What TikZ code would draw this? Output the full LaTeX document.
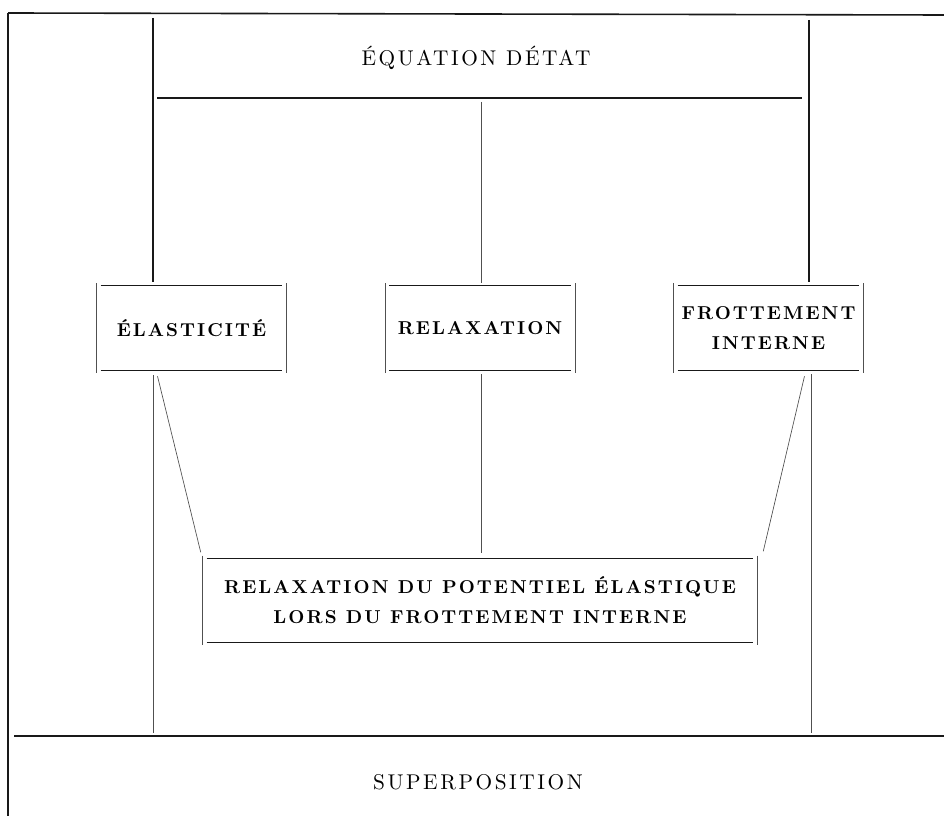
\documentclass[tikz,border=0pt]{standalone}
\usepackage{fontspec}
\setmainfont{lmroman10-regular.otf}[BoldFont=lmroman10-bold.otf]
\usepackage{tikz}
\usetikzlibrary{positioning, calc}
\definecolor{ink}{RGB}{25,25,25}
\definecolor{inkgray}{RGB}{80,80,80}
\tikzset{
  tablet/.style={rectangle, minimum width=142pt, minimum height=63pt,
    inner sep=0pt, align=center,
    font=\fontsize{14}{22.5}\selectfont\bfseries\addfontfeatures{LetterSpace=11}},
  widetablet/.style={tablet, minimum width=415.5pt},
  heading/.style={inner sep=0pt,
    font=\fontsize{16}{18}\selectfont\addfontfeatures{LetterSpace=12}},
  framelines/.style={line width=1.2pt, color=ink},
  titlerule/.style={line width=0.9pt, color=ink},
  link/.style={line width=0.5pt, color=inkgray},
  lid/.style={line width=0.7pt, color=ink},
  sidebar/.style={line width=0.5pt, color=inkgray}
}

\begin{document}
\begin{tikzpicture}[x=0.75pt, y=-0.75pt, node distance=74pt and 74pt]
  \useasboundingbox (0,0) rectangle (944,816);
  \coordinate (nw) at (8,13);
  \coordinate (ne) at (944,15);
  \coordinate (sw) at (8,816);
  \coordinate (bw) at (14,736);
  \coordinate (be) at (944,736);
  \coordinate (hw) at (157,98);
  \coordinate (he) at (802,98);
  \coordinate (lv) at (153,18);
  \coordinate (rv) at (809,20);

  \node[heading] (title) at (476,58) {ÉQUATION DÉTAT};
  \node[tablet] (rel) at (480,328) {RELAXATION};
  \node[tablet, left=of rel] (ela) {ÉLASTICITÉ};
  \node[tablet, right=of rel] (frt) {FROTTEMENT\\INTERNE};
  \node[widetablet, below=141pt of rel] (rpe) {RELAXATION DU POTENTIEL ÉLASTIQUE\\LORS DU FROTTEMENT INTERNE};
  \node[heading] (sup) at (478,782) {SUPERPOSITION};

  \foreach \n in {ela,rel,frt,rpe}{
    \draw[lid] ([xshift=3pt]\n.north west) -- ([xshift=-3pt]\n.north east);
    \draw[lid] ([xshift=3pt]\n.south west) -- ([xshift=-3pt]\n.south east);
    \draw[sidebar] ([yshift=2pt]\n.north west) -- ([yshift=-2pt]\n.south west);
    \draw[sidebar] ([yshift=2pt]\n.north east) -- ([yshift=-2pt]\n.south east);
  }

  \draw[framelines] (nw) -- (ne);
  \draw[framelines] (nw) -- (sw);
  \draw[framelines] (bw) -- (be);
  \draw[titlerule] (hw) -- (he);

  \draw[titlerule] (lv) -- ($(lv |- ela.north)+(0,-4)$);
  \draw[link] ($(lv |- ela.south)+(0,5)$) -- ($(lv |- bw)+(0,-3)$);
  \draw[titlerule] (rv) -- ($(rv |- frt.north)+(0,-4)$);
  \draw[link] ($(rv |- frt.south)+(2,4)$) -- ($(rv |- bw)+(2,-3)$);
  \draw[link] ($(rel.north |- hw)+(1,4)$) -- ($(rel.north)+(1,-3)$);
  \draw[link] ($(rel.south)+(1,4)$) -- ($(rpe.north)+(1,-5)$);
  \draw[link] ($(ela.south west)+(61,6)$) -- ($(rpe.north west)+(-2,-6)$);
  \draw[link] ($(frt.south east)+(-59,6)$) -- ($(rpe.north east)+(6,-7)$);
\end{tikzpicture}
\end{document}
